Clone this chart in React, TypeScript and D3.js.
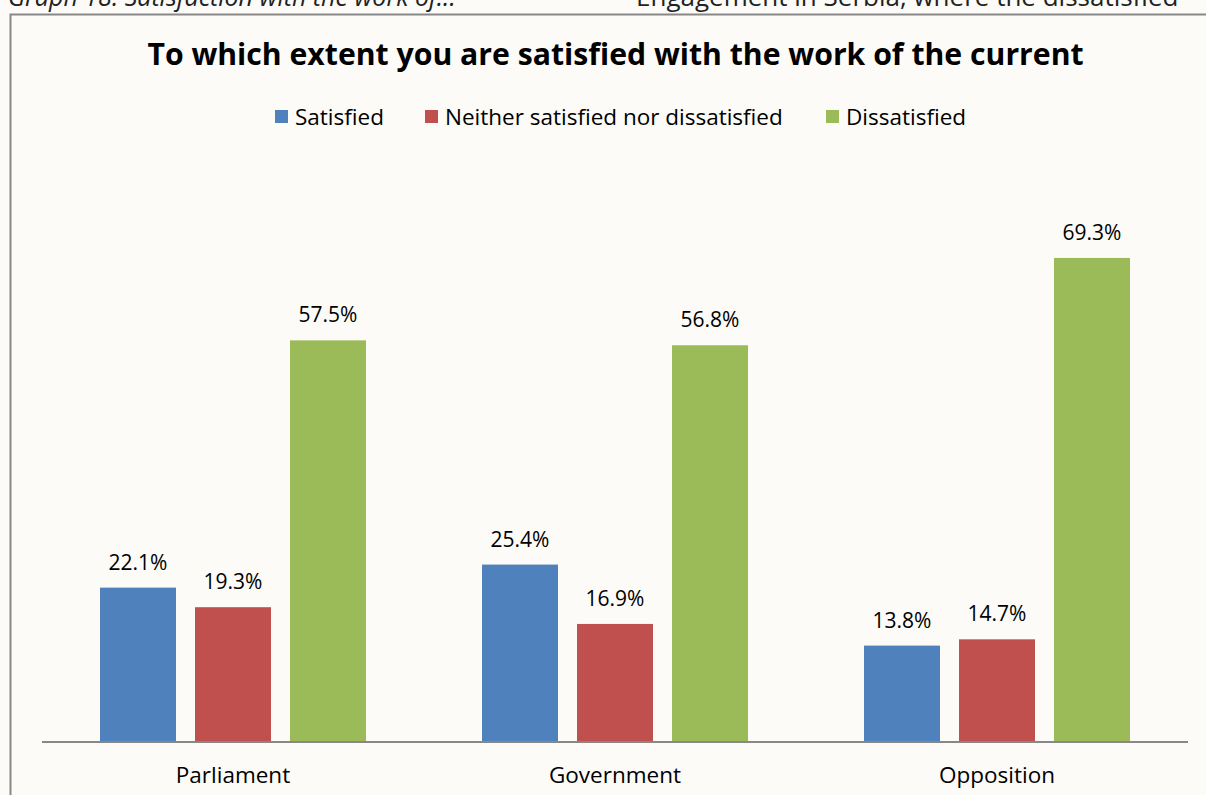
import React from "react";
import * as d3 from "d3";

const categories = ["Parliament", "Government", "Opposition"];
const seriesNames = ["Satisfied", "Neither satisfied nor dissatisfied", "Dissatisfied"];
const satisfied = [22.1, 25.4, 13.8];
const neither = [19.3, 16.9, 14.7];
const dissatisfied = [57.5, 56.8, 69.3];
const colors = ["#4f81bd", "#c0504d", "#9bbb59"];

const W = 1206;
const H = 795;

export default function App() {
  const series = [satisfied, neither, dissatisfied];
  const x0 = d3.scaleBand<string>().domain(categories).range([42, 1188]).paddingInner(0).paddingOuter(0);
  const x1 = d3.scaleBand<string>().domain(seriesNames).range([58, 324]).paddingInner(0.2).paddingOuter(0);
  const y = d3.scaleLinear().domain([0, 80]).range([742, 742 - 6.985 * 80]);
  const font = "'Open Sans', 'Noto Sans', sans-serif";

  const legendItems = [
    { x: 275, label: seriesNames[0] },
    { x: 425, label: seriesNames[1] },
    { x: 826, label: seriesNames[2] },
  ];

  return (
    <svg width={W} height={H} style={{ position: "absolute", left: 0, top: 0, display: "block" }}>
      <rect x={0} y={0} width={W} height={H} fill="#fcfbf8" />
      <text x={8} y={6} fontFamily={font} fontStyle="italic" fontSize={25} fill="#222">
        Graph 18: Satisfaction with the work of...
      </text>
      <text x={636} y={6} fontFamily={font} fontSize={26} fill="#222">
        Engagement in Serbia, where the dissatisfied
      </text>
      <rect x={10.5} y={14.5} width={1220} height={800} fill="#fcfbf8" stroke="#888" strokeWidth={2} />
      <text x={615.5} y={65} textAnchor="middle" fontFamily={font} fontWeight="bold" fontSize={30.2} fill="#000">
        To which extent you are satisfied with the work of the current
      </text>
      {legendItems.map((d, i) => (
        <g key={d.label}>
          <rect x={d.x} y={110} width={13} height={13} fill={colors[i]} />
          <text x={d.x + 20} y={125} fontFamily={font} fontSize={22.5} fill="#000">
            {d.label}
          </text>
        </g>
      ))}
      {categories.map((c, ci) => (
        <g key={c} transform={`translate(${x0(c)},0)`}>
          {seriesNames.map((s, si) => {
            const v = series[si][ci];
            const bx = x1(s)!;
            return (
              <g key={s}>
                <rect x={bx} y={y(v)} width={x1.bandwidth()} height={742 - y(v)} fill={colors[si]} />
                <text
                  x={bx + x1.bandwidth() / 2}
                  y={y(v) - 18}
                  textAnchor="middle"
                  fontFamily={font}
                  fontSize={21}
                  fill="#000"
                >
                  {v.toFixed(1)}%
                </text>
              </g>
            );
          })}
          <text x={x0.bandwidth() / 2} y={783} textAnchor="middle" fontFamily={font} fontSize={22.5} fill="#000">
            {c}
          </text>
        </g>
      ))}
      <line x1={42} x2={1188} y1={742} y2={742} stroke="#888" strokeWidth={2} />
    </svg>
  );
}
